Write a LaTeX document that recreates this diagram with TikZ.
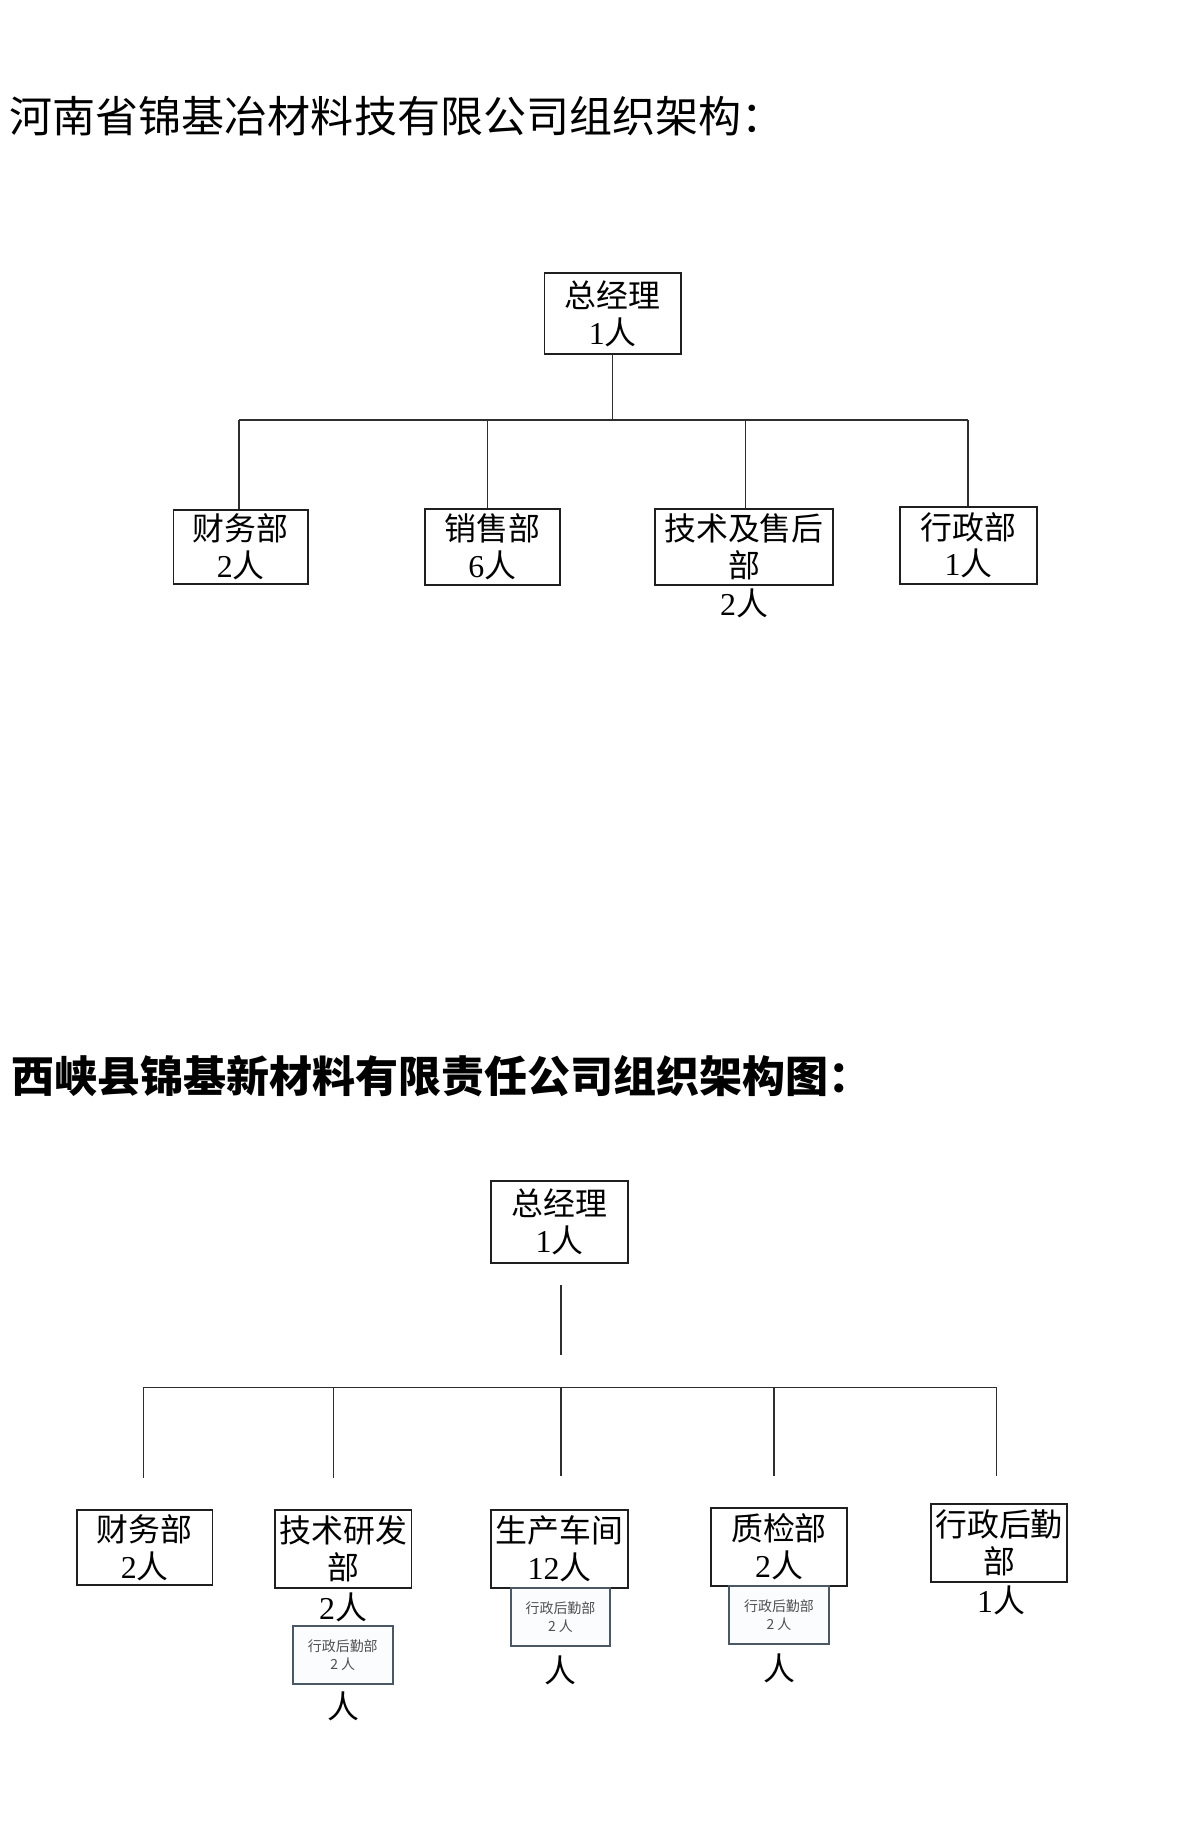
\documentclass[tikz,border=0pt]{standalone}
\usepackage{fontspec}
\setmainfont{Liberation Serif}
\newfontfamily\cjk{Noto Sans CJK SC}
\newcommand\zren{{\cjk 人}}
\newcommand\boxfont{\fontsize{32}{37}\selectfont}
\definecolor{sboxline}{HTML}{4A5866}
\definecolor{sboxfill}{HTML}{FAFCFE}
\definecolor{stext}{HTML}{505050}
\tikzset{
  box/.style={draw=black!88, line width=1.8, inner sep=0, align=center, font=\boxfont},
  sbox/.style={draw=sboxline, fill=sboxfill, line width=2, inner sep=0, align=center,
    minimum width=100, minimum height=58, text=stext, font=\cjk\fontsize{14}{18}\selectfont},
  lbl/.style={inner sep=0, anchor=base, font=\boxfont},
  conn/.style={draw=black!82, line width=1.2},
  ttl/.style={inner sep=0, anchor=base west, font=\cjk\fontsize{43.2}{50}\selectfont}
}
\begin{document}
\begin{tikzpicture}[x=1bp, y=-1bp]
\useasboundingbox (0,0) rectangle (1179,1826);
\fill[white] (0,0) rectangle (1179,1826);

% ---------- Title 1 ----------
\node[ttl] (title1) at (9.5,132.5) {河南省锦基冶材料技有限公司组织架构：};

% ---------- Chart 1 ----------
\node[box, minimum width=137, minimum height=82] (t1) at (612.7,313.5) {{\cjk 总经理}\\1\zren};
\node[box, minimum width=135, minimum height=74] (c1) at (240.7,547) {{\cjk 财务部}\\2\zren};
\node[box, minimum width=136, minimum height=77] (c2) at (492.4,547) {{\cjk 销售部}\\6\zren};
\node[box, minimum width=178, minimum height=77] (c3) at (744,547) {{\cjk 技术及售后}\\{\cjk 部}};
\node[box, minimum width=137, minimum height=77] (c4) at (968.5,545.3) {{\cjk 行政部}\\1\zren};
\node[lbl] (c3n) at (744,615) {2\zren};

\coordinate (hA) at (239,420);
\coordinate (hB) at (968,420);
\draw[conn] (hA) -- (hB);
\draw[conn] (t1.south) -- (t1.south |- hA);
\coordinate (j1) at (239,420);
\coordinate (j2) at (487.5,421);
\coordinate (j3) at (745.8,421);
\coordinate (j4) at (968,420);
\draw[conn] (j1) -- (j1 |- c1.north);
\draw[conn] (j2) -- (j2 |- c2.north);
\draw[conn] (j3) -- (j3 |- c3.north);
\draw[conn] (j4) -- (j4 |- c4.north);

% ---------- Title 2 ----------
\node[ttl, font=\cjk\bfseries\fontsize{43.2}{50}\selectfont] (title2) at (11,1092) {西峡县锦基新材料有限责任公司组织架构图：};

% ---------- Chart 2 ----------
\node[box, minimum width=137, minimum height=82] (t2) at (559.5,1222) {{\cjk 总经理}\\1\zren};

\coordinate (v0a) at (561,1285);
\coordinate (v0b) at (561,1355);
\draw[conn] (v0a) -- (v0b);

\coordinate (gA) at (143.8,1387.3);
\coordinate (gB) at (996.5,1387.3);
\draw[conn] (gA) -- (gB);

\coordinate (k1a) at (143.8,1387.3);  \coordinate (k1b) at (143.8,1478);
\coordinate (k2a) at (333.4,1388);    \coordinate (k2b) at (333.4,1478);
\coordinate (k3a) at (561,1387.3);    \coordinate (k3b) at (561,1476);
\coordinate (k4a) at (774,1387.3);    \coordinate (k4b) at (774,1476);
\coordinate (k5a) at (996.5,1387.3);  \coordinate (k5b) at (996.5,1476);
\draw[conn] (k1a) -- (k1b);
\draw[conn] (k2a) -- (k2b);
\draw[conn] (k3a) -- (k3b);
\draw[conn] (k4a) -- (k4b);
\draw[conn] (k5a) -- (k5b);

\node[box, minimum width=136, minimum height=75] (d1) at (144.8,1547.5) {{\cjk 财务部}\\2\zren};
\node[box, minimum width=137, minimum height=78] (d2) at (343.2,1548.8) {{\cjk 技术研发}\\{\cjk 部}};
\node[box, minimum width=137, minimum height=78] (d3) at (559.5,1548.8) {{\cjk 生产车间}\\12\zren};
\node[box, minimum width=136, minimum height=78] (d4) at (779,1547) {{\cjk 质检部}\\2\zren};
\node[box, minimum width=136, minimum height=78] (d5) at (999,1543) {{\cjk 行政后勤}\\{\cjk 部}};

\node[lbl] (d2n) at (343,1619) {2\zren};
\node[lbl] (d5n) at (1001,1612) {1\zren};

\node[sbox] (s2) at (342.8,1655) {行政后勤部\\2 人};
\node[sbox] (s3) at (560.5,1617) {行政后勤部\\2 人};
\node[sbox] (s4) at (779,1615) {行政后勤部\\2 人};

\node[lbl] (s2n) at (343,1718) {\zren};
\node[lbl] (s3n) at (560,1682) {\zren};
\node[lbl] (s4n) at (779,1680) {\zren};
\end{tikzpicture}
\end{document}
